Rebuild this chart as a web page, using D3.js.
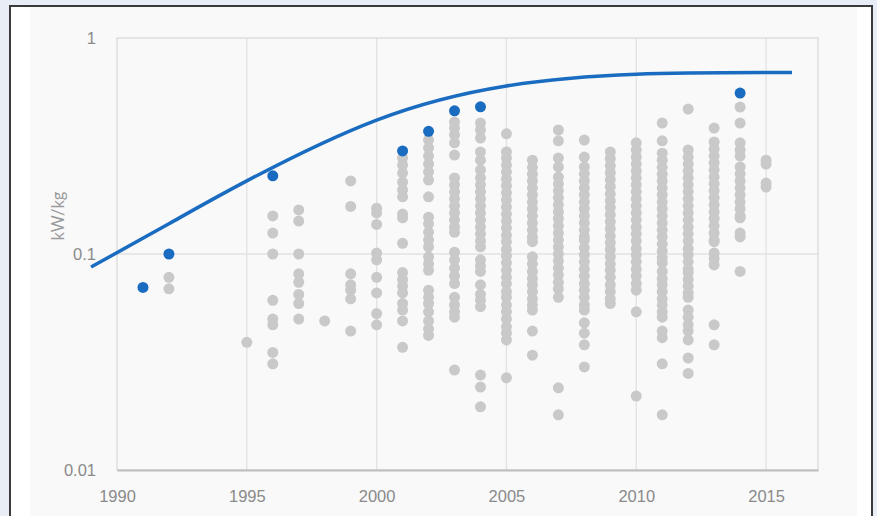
<!DOCTYPE html>
<html>
<head>
<meta charset="utf-8">
<script src="https://cdn.jsdelivr.net/npm/d3@7"></script>
<style>
  html, body { margin: 0; padding: 0; background: #e9eef6; }
  svg { display: block; font-family: Lato, "Open Sans", sans-serif; }
</style>
</head>
<body>
<div id="chart-area"></div>
<script>
// gray points: one list of kW/kg values per year
const grayYears = [1992, 1995, 1996, 1997, 1998, 1999, 2000, 2001, 2002, 2003, 2004,
  2005, 2006, 2007, 2008, 2009, 2010, 2011, 2012, 2013, 2014, 2015];
const grayValues = [
  [0.078, 0.069],
  [0.039],
  [0.15, 0.125, 0.10, 0.061, 0.050, 0.047, 0.035, 0.031],
  [0.16, 0.142, 0.10, 0.081, 0.074, 0.065, 0.059, 0.050],
  [0.049],
  [0.218, 0.166, 0.081, 0.072, 0.068, 0.062, 0.044],
  [0.163, 0.155, 0.137, 0.101, 0.094, 0.078, 0.066, 0.053, 0.047],
  [0.278, 0.258, 0.237, 0.215, 0.198, 0.184, 0.153, 0.147, 0.112, 0.082, 0.076, 0.071,
   0.066, 0.059, 0.055, 0.049, 0.037],
  [0.337, 0.310, 0.284, 0.261, 0.240, 0.220, 0.184, 0.148, 0.138, 0.126, 0.116, 0.108,
   0.097, 0.090, 0.084, 0.068, 0.063, 0.059, 0.054, 0.049, 0.045, 0.042],
  [0.408, 0.383, 0.356, 0.327, 0.287, 0.225, 0.209, 0.194, 0.180, 0.167, 0.155, 0.144,
   0.133, 0.126, 0.102, 0.094, 0.086, 0.079, 0.073, 0.063, 0.058, 0.054, 0.051, 0.029],
  [0.404, 0.375, 0.344, 0.297, 0.272, 0.245, 0.225, 0.209, 0.194, 0.180, 0.167, 0.155,
   0.144, 0.133, 0.124, 0.115, 0.108, 0.094, 0.088, 0.083, 0.072, 0.065, 0.061, 0.057,
   0.0275, 0.0242, 0.0196],
  [0.360, 0.297, 0.278, 0.258, 0.240, 0.222, 0.207, 0.192, 0.178, 0.165, 0.153, 0.142,
   0.132, 0.122, 0.114, 0.105, 0.098, 0.091, 0.084, 0.078, 0.073, 0.067, 0.063, 0.058,
   0.054, 0.050, 0.046, 0.043, 0.040, 0.0267],
  [0.272, 0.252, 0.234, 0.218, 0.202, 0.188, 0.174, 0.162, 0.150, 0.139, 0.129, 0.120,
   0.114, 0.097, 0.090, 0.083, 0.077, 0.072, 0.067, 0.062, 0.058, 0.055, 0.044, 0.034],
  [0.375, 0.334, 0.278, 0.253, 0.227, 0.211, 0.196, 0.182, 0.169, 0.157, 0.146, 0.135,
   0.125, 0.116, 0.108, 0.100, 0.093, 0.086, 0.080, 0.074, 0.069, 0.063, 0.024, 0.018],
  [0.337, 0.281, 0.253, 0.235, 0.218, 0.202, 0.188, 0.174, 0.162, 0.150, 0.139, 0.129,
   0.120, 0.116, 0.107, 0.099, 0.092, 0.085, 0.079, 0.073, 0.068, 0.063, 0.058, 0.055,
   0.048, 0.043, 0.038, 0.030],
  [0.297, 0.276, 0.256, 0.238, 0.221, 0.205, 0.190, 0.176, 0.164, 0.152, 0.141, 0.131,
   0.121, 0.113, 0.105, 0.097, 0.090, 0.084, 0.078, 0.072, 0.067, 0.062, 0.059],
  [0.327, 0.303, 0.281, 0.261, 0.242, 0.225, 0.209, 0.194, 0.180, 0.167, 0.155, 0.144,
   0.133, 0.124, 0.115, 0.106, 0.099, 0.092, 0.085, 0.079, 0.073, 0.068, 0.054, 0.022],
  [0.404, 0.334, 0.293, 0.272, 0.252, 0.234, 0.218, 0.202, 0.188, 0.174, 0.162, 0.150,
   0.139, 0.129, 0.120, 0.111, 0.103, 0.096, 0.091, 0.083, 0.077, 0.072, 0.067, 0.062,
   0.058, 0.054, 0.051, 0.044, 0.041, 0.031, 0.018],
  [0.469, 0.303, 0.281, 0.261, 0.242, 0.225, 0.209, 0.194, 0.180, 0.167, 0.155, 0.144,
   0.133, 0.124, 0.115, 0.106, 0.099, 0.092, 0.085, 0.082, 0.076, 0.071, 0.066, 0.063,
   0.055, 0.051, 0.047, 0.044, 0.040, 0.033, 0.028],
  [0.383, 0.330, 0.306, 0.284, 0.264, 0.245, 0.227, 0.211, 0.196, 0.182, 0.169, 0.157,
   0.146, 0.135, 0.125, 0.116, 0.114, 0.101, 0.095, 0.089, 0.047, 0.038],
  [0.479, 0.404, 0.327, 0.303, 0.284, 0.253, 0.235, 0.218, 0.202, 0.188, 0.174, 0.162,
   0.150, 0.147, 0.125, 0.120, 0.083],
  [0.272, 0.261, 0.213, 0.204]
];

// blue points
const blueYears = [1991, 1992, 1996, 2001, 2002, 2003, 2004, 2014];
const blueValues = [0.070, 0.10, 0.23, 0.30, 0.37, 0.46, 0.48, 0.556];

// blue curve
const curveYears = [1989, 1992, 1995, 2000, 2005, 2010, 2016];
const curveValues = [0.087, 0.138, 0.218, 0.417, 0.60, 0.68, 0.692];

const xTicks = [1990, 1995, 2000, 2005, 2010, 2015];
const yTicks = [0.01, 0.1, 1];

const W = 877, H = 516;
const PLOT = { LEFT: 117, RIGHT: 818, TOP: 38, BOTTOM: 470 };

const svg = d3.select("#chart-area").append("svg")
  .attr("width", W)
  .attr("height", H);

// frame
svg.append("rect").attr("x", 10).attr("y", 6).attr("width", 862).attr("height", 520)
  .attr("fill", "#ffffff").attr("stroke", "#3a3a3a").attr("stroke-width", 2);
svg.append("rect").attr("x", 30).attr("y", 7).attr("width", 827).attr("height", 515)
  .attr("fill", "#f9f9f9");

const x = d3.scaleLinear().domain([1990, 2017]).range([PLOT.LEFT, PLOT.RIGHT]);
const y = d3.scaleLog().domain([0.01, 1]).range([PLOT.BOTTOM, PLOT.TOP]);

// gridlines
svg.append("g").selectAll("line").data(xTicks.slice(1)).join("line")
  .attr("x1", d => x(d)).attr("x2", d => x(d))
  .attr("y1", PLOT.TOP).attr("y2", PLOT.BOTTOM)
  .attr("stroke", "#e2e2e2").attr("stroke-width", 1.3);
svg.append("g").selectAll("line").data([0.1]).join("line")
  .attr("x1", PLOT.LEFT).attr("x2", PLOT.RIGHT)
  .attr("y1", d => y(d)).attr("y2", d => y(d))
  .attr("stroke", "#e2e2e2").attr("stroke-width", 1.3);

// plot border
svg.append("rect")
  .attr("x", PLOT.LEFT).attr("y", PLOT.TOP)
  .attr("width", PLOT.RIGHT - PLOT.LEFT).attr("height", PLOT.BOTTOM - PLOT.TOP)
  .attr("fill", "none").attr("stroke", "#dadada").attr("stroke-width", 1.3);

// x axis
const xAxis = svg.append("g")
  .attr("transform", `translate(0,${PLOT.BOTTOM})`)
  .call(d3.axisBottom(x).tickValues(xTicks).tickFormat(d3.format("d")).tickSize(0).tickPadding(20));
xAxis.select(".domain").attr("stroke", "#bdbdbd").attr("stroke-width", 2);
xAxis.selectAll("text").attr("fill", "#8a8a8a").style("font-size", "16.5px");

// y axis
const yAxis = svg.append("g")
  .attr("transform", `translate(${PLOT.LEFT},0)`)
  .call(d3.axisLeft(y).tickValues(yTicks).tickFormat(d => d3.format("~g")(d)).tickSize(0).tickPadding(21));
yAxis.select(".domain").remove();
yAxis.selectAll("text").attr("fill", "#8a8a8a").style("font-size", "16.5px");

svg.append("text")
  .attr("transform", `translate(64,${(PLOT.TOP + PLOT.BOTTOM) / 2 - 38}) rotate(-90)`)
  .attr("text-anchor", "middle")
  .attr("fill", "#9a9a9a")
  .style("font-size", "16.5px")
  .text("kW/kg");

// gray points
const grayPoints = grayYears.flatMap((yr, i) => grayValues[i].map(v => ({ yr, v })));
svg.append("g").selectAll("circle").data(grayPoints).join("circle")
  .attr("cx", d => x(d.yr)).attr("cy", d => y(d.v)).attr("r", 5.5)
  .attr("fill", "#c9c9c9");

// blue curve
const line = d3.line()
  .x(d => x(d[0]))
  .y(d => y(d[1]))
  .curve(d3.curveNatural);
svg.append("path")
  .attr("fill", "none")
  .attr("stroke", "#1a6cc0")
  .attr("stroke-width", 3.5)
  .attr("d", line(d3.zip(curveYears, curveValues)));

// blue points
svg.append("g").selectAll("circle").data(d3.zip(blueYears, blueValues)).join("circle")
  .attr("cx", d => x(d[0])).attr("cy", d => y(d[1])).attr("r", 5.5)
  .attr("fill", "#1a6cc0");
</script>
</body>
</html>
